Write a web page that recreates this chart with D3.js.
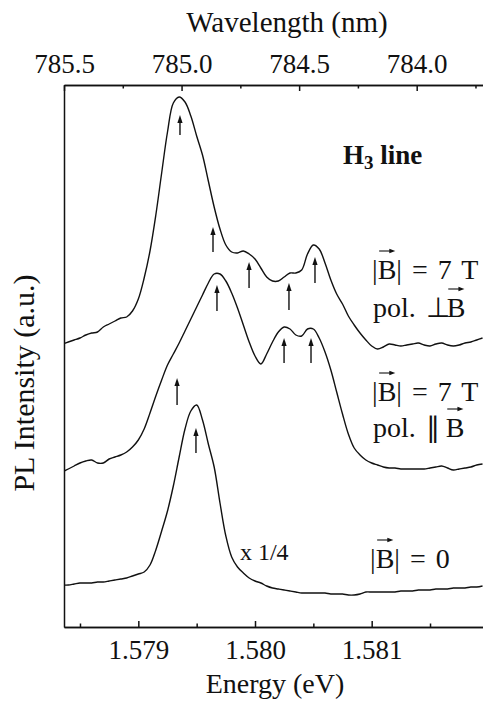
<!DOCTYPE html>
<meta charset="utf-8">
<script src="https://d3js.org/d3.v7.min.js"></script>
<style>
  body { margin: 0; background: #fff; }
  svg text { font-family: "Liberation Serif", "Times New Roman", serif; fill: #111; }
</style>
<div id="chart"></div>
<script>

// photon energy grid (eV) of the three spectra
var energy = [
  1.57835,1.57840,1.57845,1.57850,1.57855,1.57860,1.57865,1.57870,1.57875,1.57880,
  1.57885,1.57890,1.57895,1.57900,1.57905,1.57910,1.57915,1.57920,1.57925,1.57930,
  1.57935,1.57940,1.57945,1.57950,1.57955,1.57960,1.57965,1.57970,1.57975,1.57980,
  1.57985,1.57990,1.57995,1.58000,1.58005,1.58010,1.58015,1.58020,1.58025,1.58030,
  1.58035,1.58040,1.58045,1.58050,1.58055,1.58060,1.58065,1.58070,1.58075,1.58080,
  1.58085,1.58090,1.58095,1.58100,1.58105,1.58110,1.58115,1.58120,1.58125,1.58130,
  1.58135,1.58140,1.58145,1.58150,1.58155,1.58160,1.58165,1.58170,1.58175,1.58180,
  1.58185,1.58190,1.58195
];

// PL intensity (a.u., curves offset vertically)
var perpB = [
  283,285,287,289,292,294,295,300,303,306,
  309,310,316,328,349,376,412,454,495,524,
  530,525,511,491,472,446,420,398,382,375,
  374,376,373,368,359,350,346,346,350,354,
  354,357,373,382,378,364,347,333,323,311,
  302,294,287,281,278,280,283,282,281,282,
  283,284,282,281,283,284,282,281,282,284,
  285,287,289
];
var parB = [
  155,158,161,164,166,167,164,164,168,170,
  172,175,180,187,198,214,231,247,262,273,
  284,296,308,320,332,344,353,353,346,334,
  319,302,285,271,263,273,285,295,300,298,
  292,291,298,298,289,275,257,235,213,193,
  179,172,167,164,162,160,159,159,158,158,
  158,158,158,159,160,161,159,157,158,159,
  160,162,163
];
var zeroB = [
  42,42,43,44,44,44,45,45,46,47,
  48,49,51,53,55,62,77,96,116,141,
  170,198,216,222,207,183,160,124,91,70,
  60,54,49,46,44,41,39,38,37,36,
  35,34,34,34,34,34,33,33,33,32,
  32,33,35,35,35,35,35,35,36,36,
  36,37,37,37,38,38,38,39,39,39,
  40,40,41
];

// line positions marked with arrows
var arrowEnergy = [1.579357, 1.579640, 1.579949, 1.580291, 1.580514,
                   1.579332, 1.579674, 1.580249, 1.580480, 1.579494];
var arrowFrom   = [492, 375, 339, 317, 344, 222, 316, 264, 264, 174];
var arrowTo     = [512, 400, 365, 344, 370, 249, 342, 289, 289, 199];

var energyTicks = [1.579, 1.580, 1.581];
var energyMinor = [1.5785, 1.5795, 1.5805, 1.5815];
var waveTicks = [785.5, 785.0, 784.5, 784.0];
var waveMinor = [785.25, 784.75, 784.25, 783.75];

var margin = {top: 85, right: 0, bottom: 76, left: 64},
    width = 483 - margin.left - margin.right,
    height = 703 - margin.top - margin.bottom;

var svg = d3.select("#chart")
  .append("svg")
    .attr("width", width + margin.left + margin.right)
    .attr("height", height + margin.top + margin.bottom)
  .append("g")
    .attr("transform", "translate(" + margin.left + "," + margin.top + ")");

var x = d3.scaleLinear().domain([1.578363, 1.581954]).range([0, width]);
var xTop = d3.scaleLinear().domain([785.5, 783.718]).range([0, width]);
var y = d3.scaleLinear().domain([0, 542]).range([height, 0]);

function styleAxis(g) {
  g.attr("font-size", 27);
  g.selectAll("path, line").attr("stroke", "#111").attr("stroke-width", 1.5);
  g.selectAll("text").attr("fill", "#111");
}

// bottom axis (energy)
svg.append("g")
  .attr("transform", "translate(0," + height + ")")
  .call(d3.axisBottom(x).tickValues(energyTicks).tickFormat(d3.format(".3f"))
    .tickSizeInner(-6).tickSizeOuter(0).tickPadding(13))
  .call(styleAxis);
svg.append("g")
  .attr("transform", "translate(0," + height + ")")
  .call(d3.axisBottom(x).tickValues(energyMinor).tickFormat("")
    .tickSizeInner(-3.5).tickSizeOuter(0))
  .call(styleAxis);

// top axis (wavelength)
svg.append("g")
  .call(d3.axisTop(xTop).tickValues(waveTicks).tickFormat(d3.format(".1f"))
    .tickSizeInner(-6).tickSizeOuter(0).tickPadding(12))
  .call(styleAxis);
svg.append("g")
  .call(d3.axisTop(xTop).tickValues(waveMinor).tickFormat("")
    .tickSizeInner(-3.5).tickSizeOuter(0))
  .call(styleAxis);

// left axis, no ticks
svg.append("g")
  .call(d3.axisLeft(y).tickValues([]).tickSizeOuter(0))
  .call(styleAxis);

// axis titles
svg.append("text")
  .attr("x", 211).attr("y", 608)
  .attr("text-anchor", "middle").style("font-size", "28px")
  .text("Energy (eV)");
svg.append("text")
  .attr("x", 223).attr("y", -53)
  .attr("text-anchor", "middle").style("font-size", "29px")
  .text("Wavelength (nm)");
svg.append("text")
  .attr("transform", "translate(-30," + 298 + ")rotate(-90)")
  .attr("text-anchor", "middle").style("font-size", "30px")
  .text("PL Intensity (a.u.)");

// spectra
svg.append("clipPath").attr("id", "clip")
  .append("rect").attr("width", width).attr("height", height);

var line = d3.line()
  .x(function(d) { return x(d[0]); })
  .y(function(d) { return y(d[1]); })
  .curve(d3.curveCatmullRom.alpha(0.5));

[perpB, parB, zeroB].forEach(function(series) {
  svg.append("path")
    .datum(energy.map(function(e, i) { return [e, series[i]]; }))
    .attr("clip-path", "url(#clip)")
    .attr("fill", "none")
    .attr("stroke", "#111")
    .attr("stroke-width", 1.4)
    .attr("d", line);
});

// arrows marking the lines
arrowEnergy.forEach(function(e, i) {
  var ax = x(e), y0 = y(arrowFrom[i]), y1 = y(arrowTo[i]);
  svg.append("line")
    .attr("x1", ax).attr("x2", ax)
    .attr("y1", y0).attr("y2", y1 + 6)
    .attr("stroke", "#111").attr("stroke-width", 1.4);
  svg.append("path")
    .attr("d", "M" + ax + "," + y1 + "L" + (ax - 2.6) + "," + (y1 + 8) + "L" + (ax + 2.6) + "," + (y1 + 8) + "Z")
    .attr("fill", "#111");
});

// H3 line title
var h3 = svg.append("text")
  .attr("x", x(1.580754)).attr("y", y(463))
  .style("font-size", "27px").style("font-weight", "bold");
h3.append("tspan").text("H");
h3.append("tspan").attr("dy", 5).style("font-size", "19px").text("3");
h3.append("tspan").attr("dy", -5).text(" line");

// field / polarisation labels; bIndex is the B that carries a vector arrow
var notes = [
  {text: "|B| = 7 T", e: 1.581003, v: 348, bIndex: 1, dx: null},
  {text: "pol. \u22a5B", e: 1.581011, v: 310, bIndex: 6, dx: "0 0 0 0 0 0 -3"},
  {text: "|B| = 7 T", e: 1.581003, v: 226, bIndex: 1, dx: null},
  {text: "pol. \u2225 B", e: 1.581011, v: 190, bIndex: 7, dx: "0 0 0 0 0 0 -2 -2"},
  {text: "|B| = 0", e: 1.580986, v: 59, bIndex: 1, dx: null},
  {text: "x 1/4", e: 1.579871, v: 67, bIndex: -1, dx: null}
];

notes.forEach(function(n) {
  var t = svg.append("text")
    .attr("x", x(n.e)).attr("y", y(n.v))
    .style("font-size", n.bIndex < 0 ? "24px" : "28px")
    .style("word-spacing", n.bIndex < 0 ? "0px" : "3px")
    .text(n.text);
  if (n.dx) t.attr("dx", n.dx);
  if (n.bIndex >= 0) {
    var r = t.node().getExtentOfChar(n.bIndex);
    var ay = y(n.v) - 28, ax0 = r.x + 1.5, ax1 = r.x + r.width - 1;
    svg.append("line")
      .attr("x1", ax0).attr("x2", ax1 - 4)
      .attr("y1", ay).attr("y2", ay)
      .attr("stroke", "#111").attr("stroke-width", 1.1);
    svg.append("path")
      .attr("d", "M" + ax1 + "," + ay + "L" + (ax1 - 6) + "," + (ay - 2.2) + "L" + (ax1 - 6) + "," + (ay + 2.2) + "Z")
      .attr("fill", "#111");
  }
});

</script>
